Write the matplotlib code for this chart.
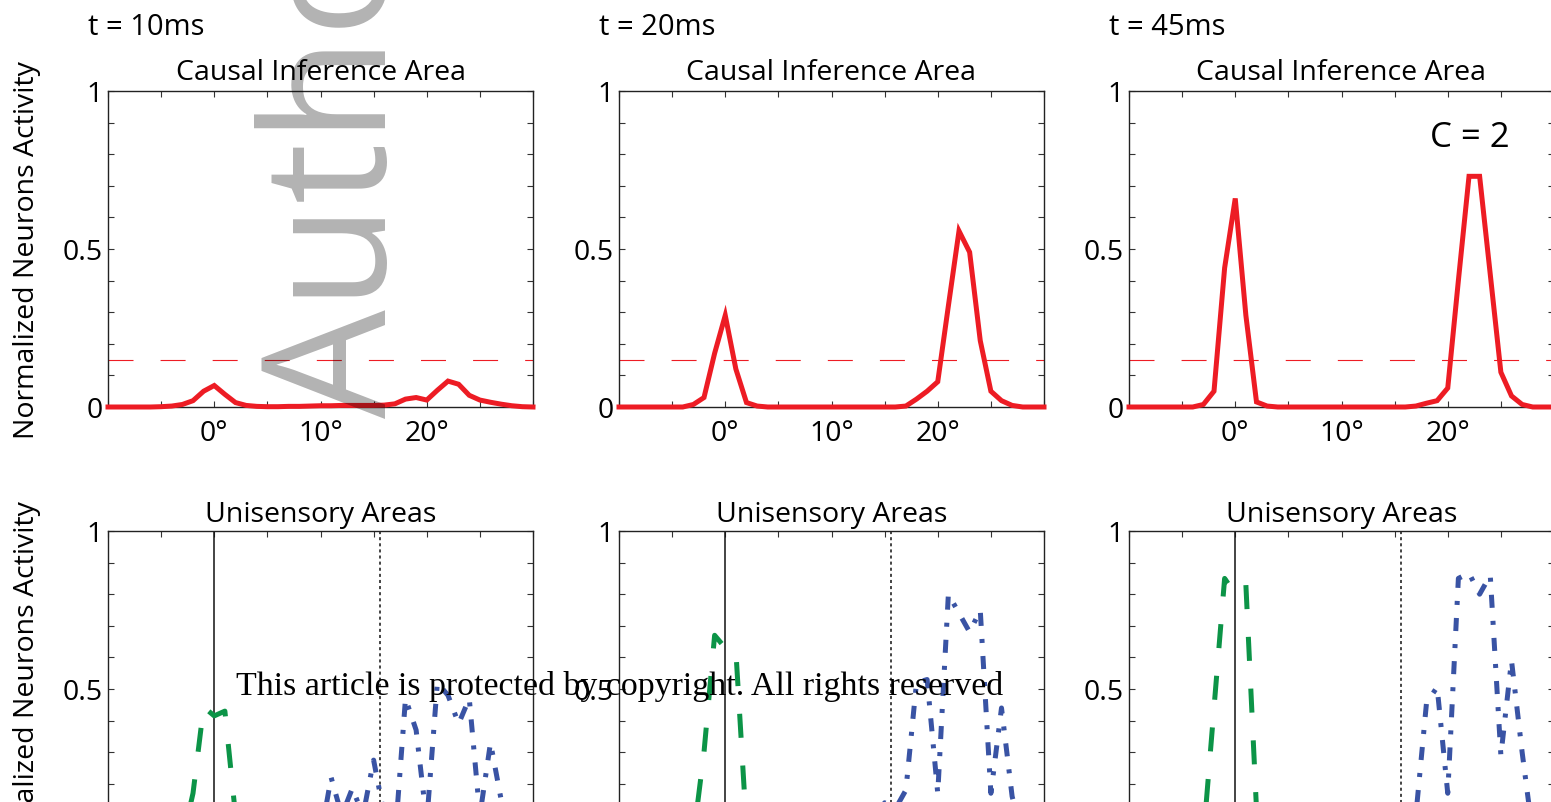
import numpy as np
import matplotlib
matplotlib.use('Agg')
import matplotlib.pyplot as plt

plt.rcParams['font.family'] = ['Open Sans', 'DejaVu Sans']
plt.rcParams['lines.scale_dashes'] = False

# ---------------- data ----------------
angles = np.arange(-10, 31)  # degrees, 1 deg sampling

times = ["t = 10ms", "t = 20ms", "t = 45ms"]

ci_t10 = [0, 0, 0, 0, 0, 0.001, 0.003, 0.008, 0.02, 0.05, 0.068, 0.04, 0.014, 0.005, 0.002,
          0.001, 0.001, 0.002, 0.002, 0.003, 0.004, 0.004, 0.005, 0.005, 0.005, 0.005,
          0.006, 0.01, 0.025, 0.03, 0.022, 0.053, 0.082, 0.072, 0.037, 0.022, 0.015,
          0.009, 0.004, 0.001, 0.0]
ci_t20 = [0, 0, 0, 0, 0, 0, 0, 0.008, 0.03, 0.17, 0.29, 0.12, 0.014, 0.003, 0,
          0, 0, 0, 0, 0, 0, 0, 0, 0, 0, 0,
          0, 0.003, 0.025, 0.05, 0.08, 0.32, 0.557, 0.49, 0.21, 0.05, 0.02,
          0.005, 0, 0, 0]
ci_t45 = [0, 0, 0, 0, 0, 0, 0, 0.008, 0.05, 0.44, 0.66, 0.29, 0.016, 0.003, 0,
          0, 0, 0, 0, 0, 0, 0, 0, 0, 0, 0,
          0, 0.003, 0.012, 0.02, 0.06, 0.40, 0.73, 0.73, 0.42, 0.11, 0.035,
          0.008, 0, 0, 0]

vis_t10 = [0, 0, 0, 0, 0, 0, 0, 0.02, 0.17, 0.443, 0.415, 0.43, 0.10, 0.01, 0,
           0, 0, 0, 0, 0, 0, 0, 0, 0, 0, 0, 0, 0, 0, 0, 0, 0, 0, 0, 0, 0, 0, 0, 0, 0, 0]
vis_t20 = [0, 0, 0, 0, 0, 0, 0, 0.03, 0.30, 0.67, 0.63, 0.62, 0.06, 0.01, 0,
           0, 0, 0, 0, 0, 0, 0, 0, 0, 0, 0, 0, 0, 0, 0, 0, 0, 0, 0, 0, 0, 0, 0, 0, 0, 0]
vis_t45 = [0, 0, 0, 0, 0, 0, 0, 0.03, 0.44, 0.85, 0.80, 0.83, 0.12, 0.01, 0,
           0, 0, 0, 0, 0, 0, 0, 0, 0, 0, 0, 0, 0, 0, 0, 0, 0, 0, 0, 0, 0, 0, 0, 0, 0, 0]

aud_t10 = [0, 0, 0, 0, 0, 0, 0, 0, 0, 0, 0, 0, 0, 0, 0, 0, 0, 0, 0, 0,
           0.03, 0.22, 0.10, 0.186, 0.10, 0.275, 0.10, 0.02, 0.47, 0.37, 0.08,
           0.52, 0.48, 0.39, 0.47, 0.10, 0.33, 0.15, 0.03, 0.01, 0]
aud_t20 = [0, 0, 0, 0, 0, 0, 0, 0, 0, 0, 0, 0, 0, 0, 0, 0, 0, 0, 0, 0,
           0, 0, 0, 0, 0.05, 0.14, 0.12, 0.18, 0.52, 0.53, 0.17,
           0.80, 0.74, 0.68, 0.75, 0.17, 0.44, 0.16, 0.03, 0, 0]
aud_t45 = [0, 0, 0, 0, 0, 0, 0, 0, 0, 0, 0, 0, 0, 0, 0, 0, 0, 0, 0, 0,
           0, 0, 0, 0, 0, 0.03, 0.05, 0.10, 0.456, 0.506, 0.17,
           0.85, 0.867, 0.80, 0.86, 0.29, 0.59, 0.30, 0.04, 0.01, 0]

ci_series = [ci_t10, ci_t20, ci_t45]
vis_series = [vis_t10, vis_t20, vis_t45]
aud_series = [aud_t10, aud_t20, aud_t45]

threshold = 0.15
stim_vis = 0
stim_aud = 15.6

xtick_pos = [-10, -5, 0, 5, 10, 15, 20, 25, 30]
xtick_lab = ['', '', '0°', '', '10°', '', '20°', '', '']
ytick_pos = [0, 0.1, 0.2, 0.3, 0.4, 0.5, 0.6, 0.7, 0.8, 0.9, 1.0]
ytick_lab = ['0', '', '', '', '', '0.5', '', '', '', '', '1']

# ---------------- figure ----------------
W, H = 1551, 803
fig = plt.figure(figsize=(W / 100, H / 100), dpi=100)

RED = '#ED1C24'
GREEN = '#0C9447'
BLUE = '#3953A4'
FS = 20.5


def rect(x0, y0, x1, y1):
    return [x0 / W, 1 - y1 / H, (x1 - x0) / W, (y1 - y0) / H]


def style(ax, title, pad):
    ax.set_xlim(-10, 30)
    ax.set_ylim(0, 1)
    ax.set_xticks(xtick_pos)
    ax.set_xticklabels(xtick_lab)
    ax.set_yticks(ytick_pos)
    ax.set_yticklabels(ytick_lab)
    ax.tick_params(direction='in', top=True, right=True, length=4.3, width=0.8,
                   color='#333333', labelsize=FS)
    ax.tick_params(axis='x', pad=9)
    ax.tick_params(axis='y', pad=4)
    for s in ax.spines.values():
        s.set_linewidth(1.0)
        s.set_color('#222222')
    ax.set_title(title, fontsize=FS, pad=pad)


col_x = [108, 619, 1129]
AW = 425

for i in range(3):
    x0 = col_x[i]
    ax = fig.add_axes(rect(x0, 92, x0 + AW, 408))
    style(ax, 'Causal Inference Area', 8.5)
    ax.axhline(threshold, color=RED, lw=0.8, dashes=(18, 19.5))
    ax.plot(angles, ci_series[i], color=RED, lw=3.6, clip_on=False,
            solid_joinstyle='miter', zorder=3)
    fig.text((x0 - 20) / W, 1 - 35 / H, times[i], fontsize=21, va='baseline', ha='left')

    bx = fig.add_axes(rect(x0, 532, x0 + AW, 848))
    style(bx, 'Unisensory Areas', 7.2)
    bx.axvline(stim_vis, color='#111111', lw=1.1)
    bx.axvline(stim_aud, color='#111111', lw=1.1, dashes=(2.2, 2.2))
    bx.plot(angles, vis_series[i], color=GREEN, lw=3.6, dashes=(17.3, 20))
    bx.plot(angles, aud_series[i], color=BLUE, lw=3.6, dashes=(9.4, 9.4, 2.9, 9.4))

fig.text(1430 / W, 1 - 147 / H, 'C = 2', fontsize=25, va='baseline', ha='left')

fig.text(27.5 / W, 1 - 250 / H, 'Normalized Neurons Activity', rotation=90,
         ha='center', va='center', fontsize=FS)
fig.text(27.5 / W, 1 - 690 / H, 'Normalized Neurons Activity', rotation=90,
         ha='center', va='center', fontsize=FS)

# watermark
fig.text(386 / W, 1 - 418 / H, 'Author Manuscript', rotation=90, rotation_mode='anchor',
         ha='left', va='baseline', fontsize=124, color='black', alpha=0.30, zorder=10)

cp = fig.text(236 / W, 1 - 695 / H,
              'This article is protected by copyright. All rights reserved',
              family=['Liberation Serif', 'DejaVu Serif'], fontsize=22, ha='left',
              va='baseline', color='black', zorder=11)
# fit copyright line to its width in the reference (764 px)
fig.canvas.draw()
wpx = cp.get_window_extent().width
cp.set_fontsize(22 * 764.0 / wpx)

fig.savefig('out.png', dpi=100)
